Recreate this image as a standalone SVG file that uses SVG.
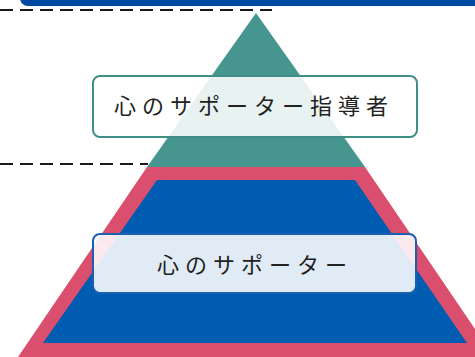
<svg xmlns="http://www.w3.org/2000/svg" width="475" height="357" viewBox="0 0 475 357">
<style>
.dash{stroke:#1a1a1a;stroke-width:2;stroke-dasharray:13 7;fill:none}
.lbl{font-family:"Noto Sans CJK JP","Noto Sans",sans-serif;font-size:22px;fill:#222;letter-spacing:6px}
.box{stroke-width:2;fill:#ffffff;fill-opacity:0.88}
</style>
<rect x="20" y="-12" width="480" height="18" rx="8" fill="#0049a0"/>
<g id="pyramid">
<polygon points="256,13 365,167 147,167" fill="#46958e"/>
<polygon points="147,167 365,167 494,357 18,357" fill="#db4f6e"/>
<polygon points="157,180 355,180 467,343 43,343" fill="#005cb0"/>
</g>
<g id="connectors">
<line class="dash" x1="0" y1="10" x2="272" y2="10"/>
<line class="dash" x1="0" y1="164" x2="148" y2="164"/>
</g>
<g id="node-leader">
<rect class="box" x="93" y="76" width="324" height="61" rx="7" stroke="#3f8f88"/>
<text class="lbl" x="114" y="114">心のサポーター指導者</text>
</g>
<g id="node-supporter">
<rect class="box" x="93" y="234" width="323" height="59" rx="7" stroke="#1a5fb0"/>
<text class="lbl" x="157" y="273">心のサポーター</text>
</g>
</svg>
